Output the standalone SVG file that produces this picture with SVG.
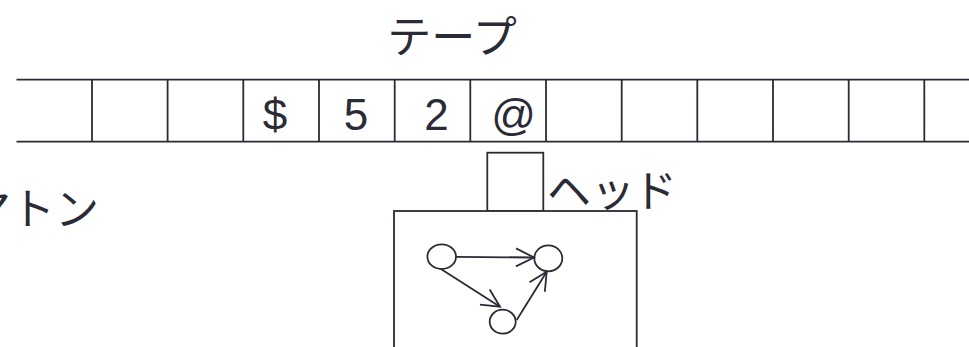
<svg xmlns="http://www.w3.org/2000/svg" width="969" height="347" viewBox="0 0 969 347">
<defs>
<style>
.ln{stroke:#2b2b36;stroke-width:1.8;fill:none}
.bx{stroke:#2b2b36;stroke-width:1.8;fill:#fff}
.t{font-family:"Noto Sans CJK JP","Noto Sans",sans-serif;fill:#2b2b36;font-size:44px}
.s{font-family:"Liberation Sans",Arial,sans-serif;fill:#2b2b36;font-size:44px;text-anchor:middle}
</style>
<marker id="ah" markerWidth="22" markerHeight="22" refX="19" refY="11" orient="auto" markerUnits="userSpaceOnUse">
<path d="M1,2 L19,11 L1,20" fill="none" stroke="#2b2b36" stroke-width="1.8"/>
</marker>
</defs>
<rect width="969" height="347" fill="#fff"/>
<g id="tape">
<line class="ln" x1="16.5" y1="79.7" x2="969" y2="79.7"/>
<line class="ln" x1="16.5" y1="141.7" x2="969" y2="141.7"/>
<line class="ln" x1="92" y1="79.7" x2="92" y2="141.7"/>
<line class="ln" x1="167.6" y1="79.7" x2="167.6" y2="141.7"/>
<line class="ln" x1="243.3" y1="79.7" x2="243.3" y2="141.7"/>
<line class="ln" x1="319" y1="79.7" x2="319" y2="141.7"/>
<line class="ln" x1="394.7" y1="79.7" x2="394.7" y2="141.7"/>
<line class="ln" x1="470.3" y1="79.7" x2="470.3" y2="141.7"/>
<line class="ln" x1="546" y1="79.7" x2="546" y2="141.7"/>
<line class="ln" x1="621.7" y1="79.7" x2="621.7" y2="141.7"/>
<line class="ln" x1="697.3" y1="79.7" x2="697.3" y2="141.7"/>
<line class="ln" x1="773" y1="79.7" x2="773" y2="141.7"/>
<line class="ln" x1="848.7" y1="79.7" x2="848.7" y2="141.7"/>
<line class="ln" x1="924.3" y1="79.7" x2="924.3" y2="141.7"/>
<text class="s" x="275" y="129.5">$</text>
<text class="s" x="356" y="129.5">5</text>
<text class="s" x="436.5" y="129.5">2</text>
<text class="s" x="513.5" y="129.5">@</text>
</g>
<g id="label-tape"><text class="t" x="452" y="53" text-anchor="middle">テープ</text></g>
<g id="label-automaton"><text class="t" x="99" y="225" text-anchor="end">マトン</text></g>
<g id="head">
<rect class="bx" x="487.3" y="152.7" width="56" height="58.3"/>
<text class="t" x="547 591 633" y="207">ヘッド</text>
</g>
<g id="automaton">
<rect class="bx" x="394" y="211" width="242.7" height="140"/>
<ellipse id="s1" class="ln" cx="441.7" cy="256.7" rx="14.3" ry="12.3"/>
<ellipse id="s2" class="ln" cx="548.3" cy="258.3" rx="14" ry="13"/>
<ellipse id="s3" class="ln" cx="502.7" cy="321.7" rx="13" ry="12"/>
</g>
<g id="connectors">
<line class="ln" x1="456" y1="256.8" x2="534" y2="257.5" marker-end="url(#ah)"/>
<line class="ln" x1="441.7" y1="269.5" x2="500" y2="306.7" marker-end="url(#ah)"/>
<line class="ln" x1="516.7" y1="320" x2="546.7" y2="271.7" marker-end="url(#ah)"/>
</g>
</svg>
